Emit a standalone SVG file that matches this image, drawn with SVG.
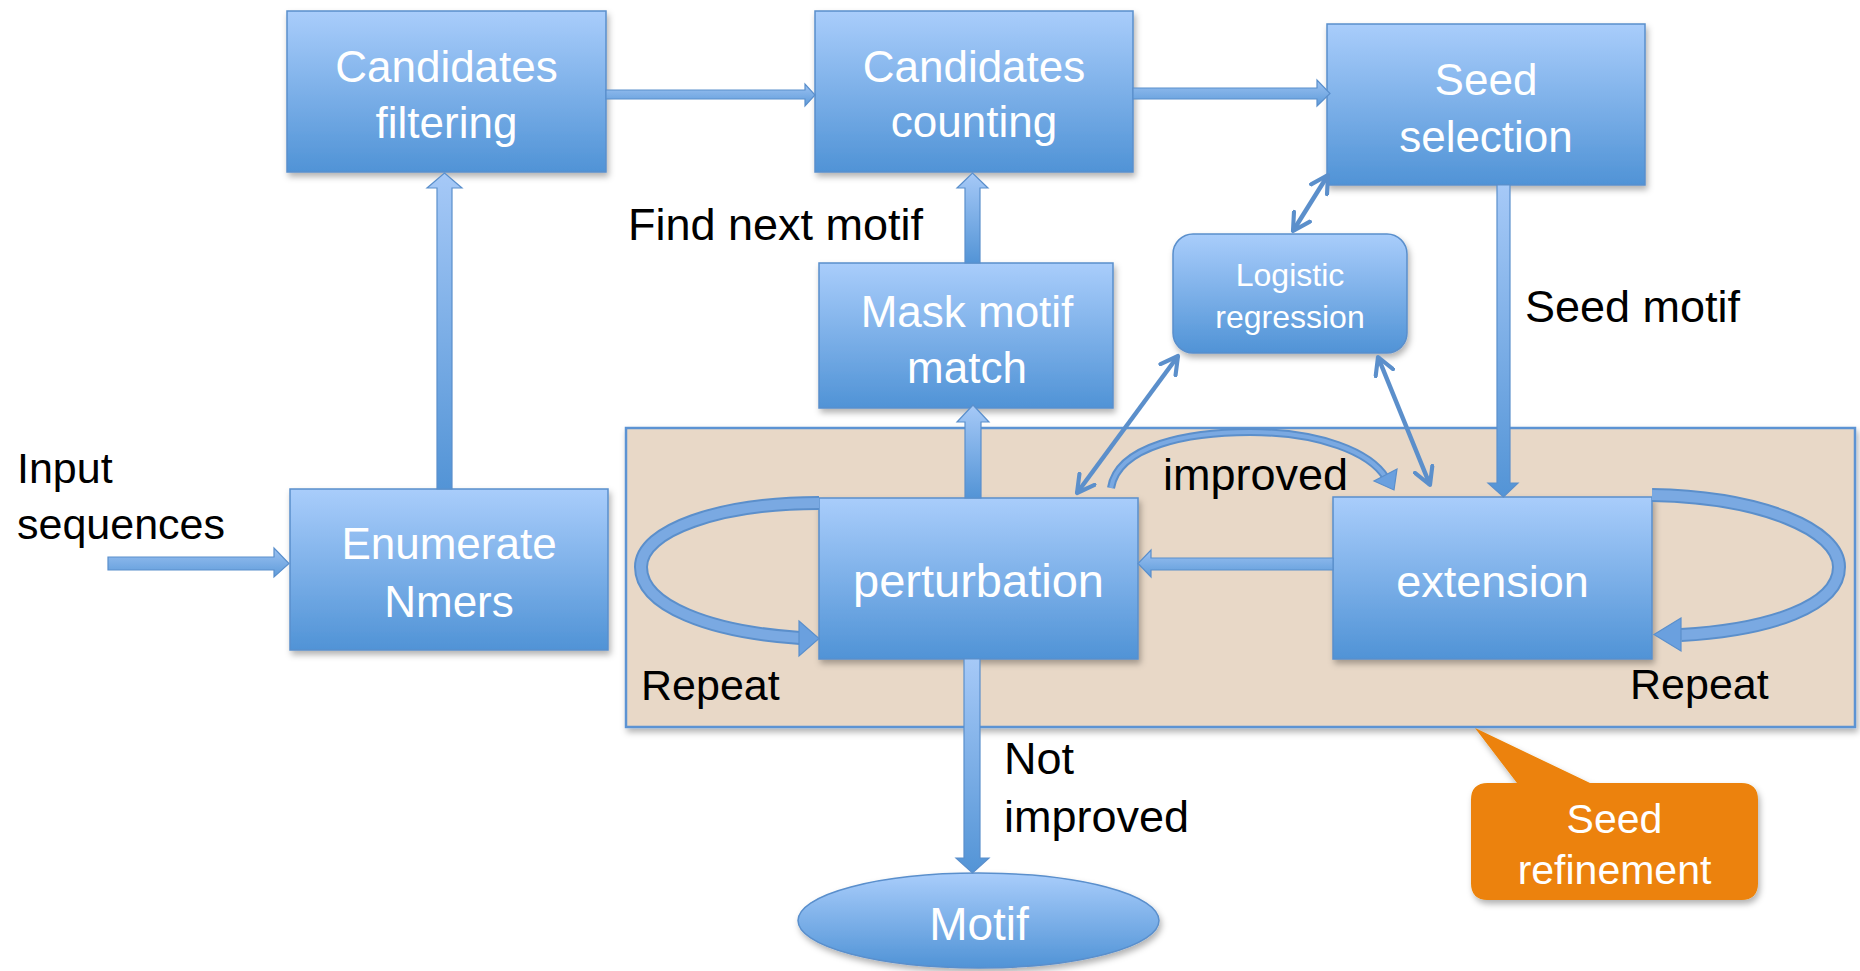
<svg xmlns="http://www.w3.org/2000/svg" width="1860" height="971" viewBox="0 0 1860 971">
<defs>
<linearGradient id="gBox" x1="0" y1="0" x2="0" y2="1">
<stop offset="0" stop-color="#a9cdfb"/>
<stop offset="1" stop-color="#5093d6"/>
</linearGradient>
<linearGradient id="gArrV" x1="0" y1="0" x2="0" y2="1">
<stop offset="0" stop-color="#a6c9f7"/>
<stop offset="1" stop-color="#5394d6"/>
</linearGradient>
<linearGradient id="gArrH" x1="0" y1="0" x2="0" y2="1">
<stop offset="0" stop-color="#9cc2f2"/>
<stop offset="1" stop-color="#5e9bda"/>
</linearGradient>
<filter id="shadow" x="-10%" y="-10%" width="120%" height="130%">
<feDropShadow dx="2" dy="4" stdDeviation="3" flood-color="#000" flood-opacity="0.3"/>
</filter>
<marker id="chev" viewBox="0 0 12 12" refX="10" refY="6" markerWidth="5" markerHeight="5" orient="auto-start-reverse" markerUnits="strokeWidth">
<path d="M1,1 L10,6 L1,11" fill="none" stroke="#5b8fcb" stroke-width="2.2" stroke-linecap="round" stroke-linejoin="round"/>
</marker>
</defs>
<style>
.box{fill:url(#gBox);stroke:#5a8fcc;stroke-width:1.5;filter:url(#shadow)}
.nt{font-family:"Liberation Sans",Arial,sans-serif;font-size:44px;fill:#ffffff;text-anchor:middle}
.lb{font-family:"Liberation Sans",Arial,sans-serif;font-size:44px;fill:#000000}
.arrV{fill:url(#gArrV);stroke:#5a8fcc;stroke-width:1.2}
.arrH{fill:url(#gArrH);stroke:#5a8fcc;stroke-width:1.2}
.thin{fill:none;stroke:#5b8fcb;stroke-width:4.5;marker-start:url(#chev);marker-end:url(#chev)}
.ribbonO{fill:none;stroke:#5b8fcb;stroke-width:14}
.ribbonI{fill:none;stroke:#7aa9e2;stroke-width:10}
.head{fill:#6aa0df;stroke:#5a8fcc;stroke-width:1.2}
</style>
<rect width="1860" height="971" fill="#ffffff"/>

<g id="seed-refinement-region">
<rect x="626" y="428" width="1229" height="299" fill="#e8d8c7" stroke="#5b93d3" stroke-width="2.5" filter="url(#shadow)"/>
</g>

<g id="candidates-filtering">
<rect class="box" x="287" y="11" width="319" height="161"/>
<text class="nt" x="446.5" y="82">Candidates</text>
<text class="nt" x="446.5" y="138">filtering</text>
</g>
<g id="candidates-counting">
<rect class="box" x="815" y="11" width="318" height="161"/>
<text class="nt" x="974" y="82">Candidates</text>
<text class="nt" x="974" y="137">counting</text>
</g>
<g id="seed-selection">
<rect class="box" x="1327" y="24" width="318" height="161"/>
<text class="nt" x="1486" y="95">Seed</text>
<text class="nt" x="1486" y="152">selection</text>
</g>
<g id="mask-motif-match">
<rect class="box" x="819" y="263" width="294" height="145"/>
<text class="nt" x="967" y="327">Mask motif</text>
<text class="nt" x="967" y="383">match</text>
</g>
<g id="logistic-regression">
<rect class="box" x="1173" y="234" width="234" height="119" rx="20" ry="20"/>
<text class="nt" x="1290" y="286" style="font-size:32px">Logistic</text>
<text class="nt" x="1290" y="328" style="font-size:32px">regression</text>
</g>
<g id="enumerate-nmers">
<rect class="box" x="290" y="489" width="318" height="161"/>
<text class="nt" x="449" y="559">Enumerate</text>
<text class="nt" x="449" y="617">Nmers</text>
</g>
<g id="perturbation">
<rect class="box" x="819" y="498" width="319" height="161"/>
<text class="nt" x="978.5" y="597" style="font-size:47px">perturbation</text>
</g>
<g id="extension">
<rect class="box" x="1333" y="497" width="319" height="162"/>
<text class="nt" x="1492.5" y="597" style="font-size:45px">extension</text>
</g>
<g id="motif">
<ellipse class="box" cx="978.5" cy="920.5" rx="180.5" ry="47.5"/>
<text class="nt" x="979" y="940" style="font-size:46px">Motif</text>
</g>
<g id="seed-refinement-callout">
<path d="M1488,783 L1517,783 L1475,728 L1590,783 L1741,783 Q1758,783 1758,800 L1758,883 Q1758,900 1741,900 L1488,900 Q1471,900 1471,883 L1471,800 Q1471,783 1488,783 Z" fill="#ec8207" filter="url(#shadow)"/>
<text class="nt" x="1614.5" y="833" style="font-size:41px">Seed</text>
<text class="nt" x="1614.5" y="884" style="font-size:41px">refinement</text>
</g>

<g id="connectors">
<!-- filtering -> counting -->
<polygon class="arrH" points="606,90 805,90 805,84 815,95 805,106 805,99 606,99"/>
<!-- counting -> seed selection -->
<polygon class="arrH" points="1133,88 1317,88 1317,80 1330,93.5 1317,106 1317,99 1133,99"/>
<!-- enumerate -> filtering -->
<polygon class="arrV" points="437,489 437,188 427,188 444.5,173 462,188 452,188 452,489"/>
<!-- mask -> counting -->
<polygon class="arrV" points="965,263 965,188 957,188 972.5,173 988,188 980,188 980,263"/>
<!-- perturbation -> mask -->
<polygon class="arrV" points="965,498 965,422 957,422 973,405 989,422 981,422 981,498"/>
<!-- seed selection -> extension -->
<polygon class="arrV" points="1497,185 1497,483 1488,483 1503.5,497 1518,483 1510,483 1510,185"/>
<!-- extension -> perturbation -->
<polygon class="arrH" points="1333,558 1151,558 1151,550 1138,563.5 1151,577 1151,570 1333,570"/>
<!-- perturbation -> motif -->
<polygon class="arrV" points="964,659 964,858 956,858 972.5,873 989,858 980,858 980,659"/>
<!-- input -> enumerate -->
<polygon class="arrH" points="108,557 274,557 274,548 289,563.5 274,577 274,570 108,570"/>

<!-- repeat loop left (perturbation) -->
<path class="ribbonO" d="M819,503 C720,503 641,530 641,567 C641,606 710,632 800,638"/>
<path class="ribbonI" d="M819,503 C720,503 641,530 641,567 C641,606 710,632 800,638"/>
<polygon class="head" points="799,621 819,638.5 799,656"/>
<!-- repeat loop right (extension) -->
<path class="ribbonO" d="M1652,495 C1762,497 1839,530 1839,567 C1839,606 1770,630 1681,635"/>
<path class="ribbonI" d="M1652,495 C1762,497 1839,530 1839,567 C1839,606 1770,630 1681,635"/>
<polygon class="head" points="1681,618 1654,634.5 1681,651"/>
<!-- improved arc -->
<path d="M1111,488 C1118,445 1190,432 1250,432 C1320,432 1370,452 1386,478" fill="none" stroke="#5b8fcb" stroke-width="8"/>
<path d="M1111,488 C1118,445 1190,432 1250,432 C1320,432 1370,452 1386,478" fill="none" stroke="#7aa9e2" stroke-width="4"/>
<polygon class="head" points="1374,481 1394,490 1397,469"/>

<!-- double-headed thin arrows -->
<line class="thin" x1="1293" y1="231" x2="1328" y2="175"/>
<line class="thin" x1="1178" y1="356" x2="1077" y2="493"/>
<line class="thin" x1="1378" y1="357" x2="1430" y2="485"/>
</g>

<g id="labels">
<text class="lb" x="17" y="483" style="font-size:43px">Input</text>
<text class="lb" x="17" y="539" style="font-size:43px">sequences</text>
<text class="lb" x="628" y="240" style="font-size:45px">Find next motif</text>
<text class="lb" x="1525" y="322" style="font-size:45px">Seed motif</text>
<text class="lb" x="1163" y="490" style="font-size:45px">improved</text>
<text class="lb" x="641" y="700" style="font-size:43px">Repeat</text>
<text class="lb" x="1630" y="699" style="font-size:43px">Repeat</text>
<text class="lb" x="1004" y="774" style="font-size:45px">Not</text>
<text class="lb" x="1004" y="832" style="font-size:45px">improved</text>
</g>
</svg>
